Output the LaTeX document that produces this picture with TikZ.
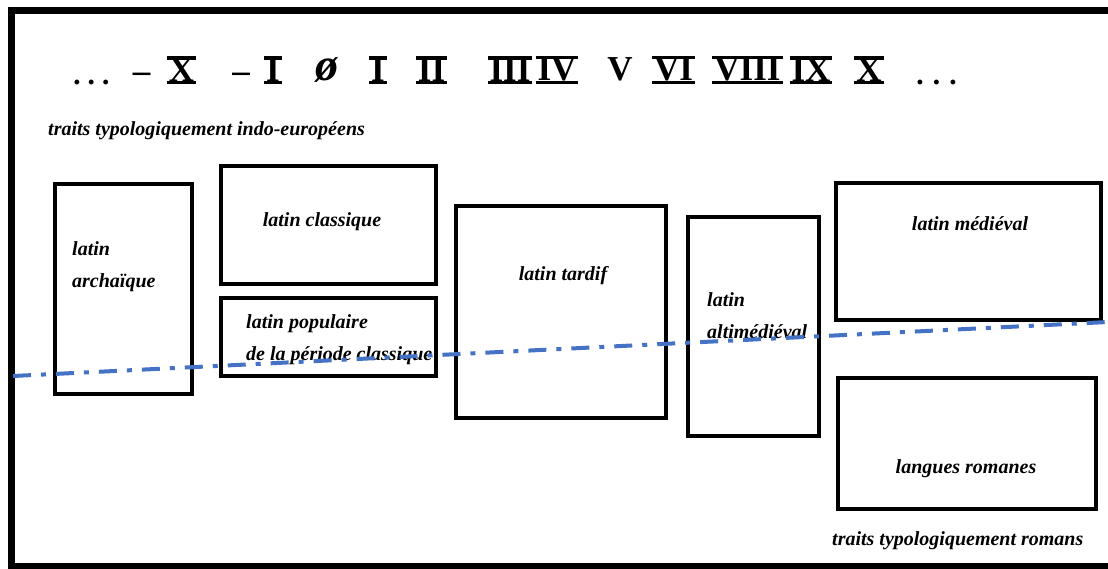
\documentclass[tikz,border=0pt]{standalone}
\usepackage{fontspec}
\setmainfont{Liberation Serif}
\definecolor{dashblue}{RGB}{68,114,196}
\newcommand\barnum[1]{\setbox0=\hbox{#1}\dimen0=\dimexpr\wd0+4pt\relax
  \vbox{\hrule height 3.5pt width\dimen0\kern-1pt
        \hbox to\dimen0{\hss\box0\hss}\kern-1pt
        \hrule height 3.5pt width\dimen0}}
\begin{document}
\begin{tikzpicture}[x=1pt,y=-1pt,
  boxnode/.style={draw=black, line width=3.5pt, inner sep=0pt},
  lbl/.style={font=\fontsize{20}{32}\selectfont\bfseries\itshape, inner sep=0pt, align=left},
  rn/.style={font=\fontsize{35}{35}\selectfont\bfseries, inner sep=0pt, anchor=base},
  dots/.style={font=\fontsize{30}{30}\selectfont\bfseries\itshape, inner sep=0pt, anchor=base},
  dashdotline/.style={draw=dashblue, line width=4pt, dash pattern=on 18pt off 10pt on 5pt off 10pt}]
\useasboundingbox (0,0) rectangle (1108,568);
% outer frame
\draw[line width=7pt] (1108,10.5) -- (11.5,10.5) -- (11.5,566) -- (1108,566);

% timeline of centuries
\node[dots] (d1) at (92.5,84) {.\kern7pt.\kern7pt.};
\node[rn] (m1) at (141.5,82) {–};
\node[rn] (c1) at (181.5,84) {\barnum{X}};
\node[rn] (m2) at (241,82) {–};
\node[rn] (c2) at (273,84) {\barnum{I}};
\node[rn, font=\fontsize{46}{46}\selectfont\bfseries\itshape] (c3) at (327,80) {ø};
\node[rn] (c4) at (378,84) {\barnum{I}};
\node[rn] (c5) at (431.5,84) {\barnum{II}};
\node[rn] (c6) at (510,84) {\barnum{III}};
\node[rn] (c7) at (557,84) {\barnum{IV}};
\node[rn] (c8) at (620,80) {V};
\node[rn] (c9) at (673.5,84) {\barnum{VI}};
\node[rn] (c10) at (747.5,84) {\barnum{VIII}};
\node[rn] (c11) at (811,84) {\barnum{IX}};
\node[rn] (c12) at (869,84) {\barnum{X}};
\node[dots] (d2) at (937.5,84) {.\kern9pt.\kern9pt.};

% headings
\node[lbl, anchor=west] (tie) at (48,131) {traits typologiquement indo-européens};
\node[lbl, anchor=west] (tro) at (832,541) {traits typologiquement romans};

% boxes
\node[boxnode, minimum width=137pt, minimum height=210pt] (arch) at (123.5,289) {};
\node[boxnode, minimum width=215pt, minimum height=118pt] (class) at (328.5,225) {};
\node[boxnode, minimum width=215pt, minimum height=78pt] (pop) at (328.5,337) {};
\node[boxnode, minimum width=210pt, minimum height=212pt] (tard) at (561,312) {};
\node[boxnode, minimum width=131pt, minimum height=219pt] (alti) at (753.5,326.5) {};
\node[boxnode, minimum width=265pt, minimum height=137pt] (med) at (968.5,251.5) {};
\node[boxnode, minimum width=258pt, minimum height=131pt] (rom) at (967,443.5) {};

% labels
\node[lbl, anchor=west] (tarch) at (72,267) {latin\\archaïque};
\node[lbl] (tclass) at (322,222) {latin classique};
\node[lbl, anchor=west] (tpop) at (246,340) {latin populaire\\de la période classique};
\node[lbl] (ttard) at (563,276) {latin tardif};
\node[lbl, anchor=west] (talti) at (707,316) {latin\\altimédiéval};
\node[lbl] (tmed) at (970,224) {latin médiéval};
\node[lbl] (trom) at (966,469) {langues romanes};

% dash-dot separation line
\coordinate (L) at (13,376);
\coordinate (R) at (1108,322);
\draw[dashdotline] (L) -- (R);
\end{tikzpicture}
\end{document}
